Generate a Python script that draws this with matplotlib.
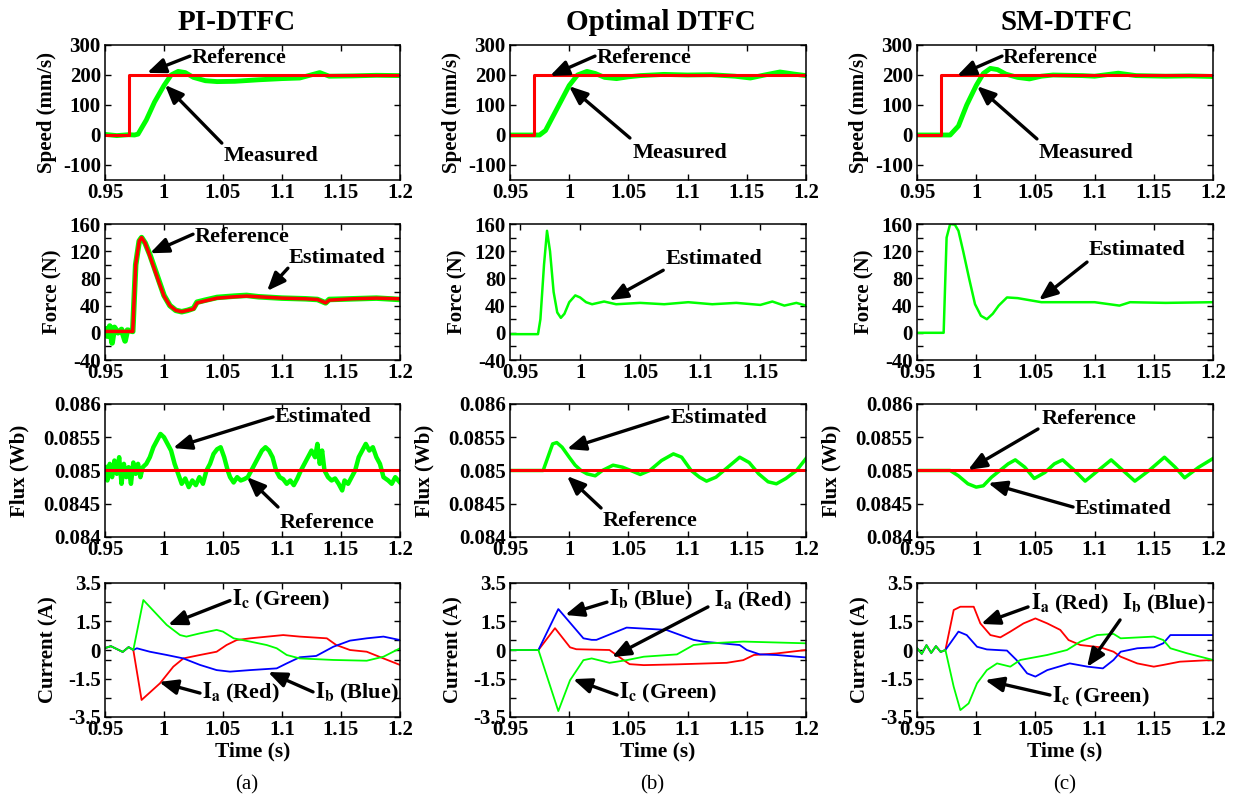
import matplotlib
matplotlib.use("Agg")
import matplotlib.pyplot as plt
from matplotlib.ticker import FixedLocator, FuncFormatter

plt.rcParams["font.family"] = "Liberation Serif"
plt.rcParams["font.weight"] = "bold"
plt.rcParams["mathtext.fontset"] = "stix"
plt.rcParams["axes.unicode_minus"] = False

GREEN, RED, BLUE = "#00ff00", "#ff0000", "#0000ff"

# ---------------- data ----------------
# row 1: speed (mm/s)
speed_ref_t = [0.95, 0.970, 0.970, 1.2]
speed_ref = [0, 0, 200, 200]

pi_speed_t = [0.95, 0.96, 0.97, 0.975, 0.978, 0.985, 0.992, 1.0, 1.006, 1.012, 1.018, 1.025,
              1.035, 1.045, 1.06, 1.08, 1.1, 1.115, 1.132, 1.14, 1.16, 1.18, 1.2]
pi_speed = [2, -2, 1, 0, 3, 50, 110, 165, 200, 212, 208, 192,
            181, 178, 179, 184, 188, 190, 208, 196, 197, 199, 198]

opt_speed_t = [0.95, 0.975, 0.98, 0.99, 1.0, 1.007, 1.015, 1.022, 1.03, 1.04, 1.05, 1.06,
               1.08, 1.1, 1.12, 1.14, 1.153, 1.165, 1.178, 1.19, 1.2]
opt_speed = [0, 0, 15, 90, 165, 200, 212, 205, 192, 188, 194, 198,
             202, 200, 201, 196, 190, 200, 210, 203, 198]

sm_speed_t = [0.95, 0.978, 0.985, 0.992, 1.0, 1.006, 1.012, 1.018, 1.025, 1.035, 1.045, 1.055,
              1.065, 1.09, 1.1, 1.12, 1.135, 1.16, 1.18, 1.2]
sm_speed = [0, 0, 30, 100, 165, 205, 222, 218, 203, 192, 187, 196,
            200, 198, 196, 206, 198, 196, 197, 195]

# row 2: force (N)
pi_force_t = [0.95, 0.952, 0.954, 0.956, 0.958, 0.961, 0.964, 0.967, 0.969, 0.9735, 0.976, 0.979,
              0.981, 0.984, 0.988, 0.992, 0.996, 1.0, 1.005, 1.01, 1.015, 1.02, 1.025, 1.028,
              1.035, 1.045, 1.06, 1.07, 1.08, 1.09, 1.1, 1.12, 1.13, 1.137, 1.14, 1.16, 1.18, 1.2]
pi_force_est = [5, -5, 10, -15, 8, 0, 5, -12, 4, 2, 100, 135,
                140, 132, 115, 95, 75, 55, 40, 33, 31, 33, 36, 45,
                48, 52, 54, 55, 53, 52, 51, 50, 49, 44, 49, 50, 51, 49]
pi_force_ref = [2, 2, 2, 2, 2, 2, 2, 2, 2, 2, 100, 135,
                140, 132, 113, 93, 73, 54, 40, 33, 31, 33, 35, 44,
                47, 51, 53, 54, 53, 52, 51, 50, 49, 44, 48, 50, 51, 50]

opt_force_t = [0.942, 0.965, 0.967, 0.970, 0.9725, 0.975, 0.978, 0.981, 0.984, 0.987, 0.991, 0.996,
               1.0, 1.005, 1.01, 1.02, 1.03, 1.05, 1.07, 1.09, 1.11, 1.13, 1.15, 1.16,
               1.17, 1.18, 1.188]
opt_force = [-2, -2, 20, 100, 150, 120, 60, 30, 22, 28, 45, 55,
             52, 45, 42, 46, 42, 44, 42, 45, 42, 44, 41, 46,
             40, 44, 40]

sm_force_t = [0.95, 0.9725, 0.975, 0.978, 0.982, 0.985, 0.989, 0.994, 0.999, 1.004, 1.009, 1.014,
              1.019, 1.026, 1.035, 1.045, 1.055, 1.08, 1.1, 1.121, 1.13, 1.16, 1.2]
sm_force = [0, 0, 140, 160, 159, 150, 120, 80, 42, 25, 20, 28,
            40, 52, 51, 48, 45, 45, 45, 40, 45, 44, 45]

# row 3: flux (Wb)
flux_ref_t = [0.95, 1.2]
flux_ref = [0.085, 0.085]

pi_flux_t = [0.95, 0.952, 0.954, 0.956, 0.958, 0.96, 0.962, 0.964, 0.966, 0.968, 0.970, 0.972,
             0.974, 0.976, 0.978, 0.980, 0.982, 0.985, 0.988, 0.991, 0.994, 0.997, 1.0, 1.003,
             1.006, 1.009, 1.012, 1.015, 1.018, 1.021, 1.024, 1.027, 1.030, 1.033, 1.036, 1.039,
             1.042, 1.045, 1.048, 1.051, 1.054, 1.056, 1.059, 1.062, 1.065, 1.068, 1.071, 1.074,
             1.077, 1.080, 1.083, 1.086, 1.089, 1.092, 1.095, 1.098, 1.101, 1.104, 1.107, 1.110,
             1.113, 1.116, 1.119, 1.122, 1.125, 1.128, 1.130, 1.132, 1.134, 1.136, 1.139, 1.142,
             1.145, 1.148, 1.151, 1.153, 1.156, 1.159, 1.162, 1.165, 1.168, 1.171, 1.174, 1.177,
             1.180, 1.183, 1.186, 1.190, 1.193, 1.196, 1.2]
pi_flux = [0.08505, 0.08485, 0.0851, 0.0849, 0.08515, 0.08495, 0.0852, 0.0848, 0.0851, 0.0849,
           0.08505, 0.0848, 0.08512, 0.08495, 0.0851, 0.0849, 0.08505, 0.0851, 0.0852, 0.08535,
           0.08545, 0.08555, 0.0855, 0.0854, 0.0853, 0.0851, 0.08495, 0.0848, 0.08488, 0.08475,
           0.08485, 0.08478, 0.0849, 0.0848, 0.0850, 0.0851, 0.08525, 0.08532, 0.08535, 0.0852,
           0.0850, 0.0849, 0.08482, 0.0849, 0.08485, 0.08487, 0.0849, 0.0850, 0.0851, 0.0852,
           0.0853, 0.08535, 0.0853, 0.0852, 0.0850, 0.0849, 0.08487, 0.0848, 0.08485, 0.08478,
           0.08488, 0.0850, 0.0851, 0.0852, 0.0853, 0.0852, 0.0854, 0.0851, 0.0853, 0.0850,
           0.0849, 0.08485, 0.08488, 0.0848, 0.0847, 0.08485, 0.0848, 0.0849, 0.0850, 0.0852,
           0.0853, 0.0854, 0.0853, 0.08535, 0.0852, 0.0851, 0.0849, 0.08485, 0.0848, 0.0849,
           0.08482]

opt_flux_t = [0.95, 0.978, 0.982, 0.986, 0.9895, 0.994, 1.0, 1.005, 1.01, 1.015, 1.022, 1.028,
              1.037, 1.045, 1.052, 1.06, 1.068, 1.078, 1.088, 1.095, 1.103, 1.11, 1.116, 1.124,
              1.134, 1.144, 1.152, 1.16, 1.168, 1.175, 1.183, 1.192, 1.2]
opt_flux = [0.085, 0.085, 0.0852, 0.0854, 0.08542, 0.08535, 0.0852, 0.08508, 0.085, 0.08495,
            0.08492, 0.085, 0.08508, 0.08505, 0.085, 0.08494, 0.085, 0.08515, 0.08525, 0.0852,
            0.085, 0.0849, 0.08484, 0.0849, 0.08505, 0.0852, 0.08512, 0.08495, 0.08483, 0.0848,
            0.08488, 0.085, 0.08518]

sm_flux_t = [0.95, 0.978, 0.985, 0.993, 1.0, 1.006, 1.013, 1.02, 1.027, 1.033, 1.041, 1.049,
             1.058, 1.066, 1.073, 1.083, 1.092, 1.103, 1.114, 1.124, 1.134, 1.146, 1.159, 1.168,
             1.176, 1.188, 1.2]
sm_flux = [0.085, 0.085, 0.08492, 0.0848, 0.08475, 0.08477, 0.0849, 0.085, 0.0851, 0.08516,
           0.08505, 0.08488, 0.08497, 0.0851, 0.08516, 0.085, 0.08484, 0.085, 0.08516, 0.085,
           0.08484, 0.085, 0.0852, 0.08505, 0.08489, 0.08505, 0.08518]

# row 4: phase currents (A)
pi_cur_t = [0.95, 0.955, 0.96, 0.965, 0.97, 0.974]
pi_cur_pre = [0.1, 0.2, 0.05, -0.1, 0.15, 0.0]
pi_ia_t = [0.981, 0.9966, 1.0079, 1.0164, 1.0305, 1.0446, 1.053, 1.0616, 1.073, 1.101, 1.115,
           1.138, 1.146, 1.1576, 1.1718, 1.186, 1.2]
pi_ia = [-2.61, -1.74, -0.87, -0.44, -0.26, -0.09, 0.26, 0.52, 0.61, 0.78, 0.70,
         0.61, 0.26, 0.0, -0.09, -0.44, -0.78]
pi_ib_t = [0.977, 0.988, 1.0023, 1.0164, 1.0305, 1.0446, 1.0559, 1.073, 1.0955, 1.104, 1.115,
           1.129, 1.1435, 1.1576, 1.1718, 1.186, 1.2]
pi_ib = [0.09, -0.09, -0.26, -0.44, -0.78, -1.05, -1.13, -1.05, -0.96, -0.70, -0.38,
         -0.31, 0.17, 0.49, 0.61, 0.70, 0.52]
pi_ic_t = [0.9825, 1.0023, 1.0136, 1.019, 1.0305, 1.0446, 1.05, 1.059, 1.073, 1.087, 1.0955,
           1.104, 1.115, 1.1435, 1.1718, 1.186, 1.2]
pi_ic = [2.61, 1.31, 0.78, 0.70, 0.87, 1.05, 0.96, 0.61, 0.44, 0.26, 0.09,
         -0.26, -0.44, -0.52, -0.56, -0.35, 0.09]

opt_cur_t = [0.95, 0.974]
opt_cur_pre = [0.0, 0.0]
opt_ia_t = [0.988, 1.0007, 1.006, 1.034, 1.046, 1.051, 1.063, 1.091, 1.133, 1.147, 1.156,
            1.175, 1.2]
opt_ia = [1.14, 0.14, 0.04, 0.0, -0.53, -0.74, -0.79, -0.75, -0.67, -0.53, -0.26,
          -0.18, 0.0]
opt_ib_t = [0.9908, 1.012, 1.019, 1.023, 1.0485, 1.068, 1.082, 1.105, 1.113, 1.144, 1.15,
            1.161, 1.175, 1.2]
opt_ib = [2.14, 0.61, 0.53, 0.53, 1.17, 1.10, 1.05, 0.53, 0.44, 0.26, 0.0,
          -0.23, -0.26, -0.39]
opt_ic_t = [0.9908, 1.0007, 1.012, 1.019, 1.034, 1.0485, 1.063, 1.091, 1.105, 1.119, 1.147, 1.2]
opt_ic = [-3.19, -1.58, -0.53, -0.44, -0.67, -0.53, -0.35, -0.23, 0.26, 0.35, 0.44, 0.35]

sm_cur_t = [0.95, 0.954, 0.958, 0.962, 0.966, 0.970, 0.974]
sm_cur_pre = [0.1, -0.2, 0.25, -0.15, 0.2, -0.1, 0.0]
sm_ia_t = [0.981, 0.9866, 0.9979, 1.0035, 1.012, 1.0204, 1.0288, 1.040, 1.050, 1.060, 1.071,
           1.078, 1.088, 1.105, 1.116, 1.122, 1.136, 1.150, 1.158, 1.172, 1.2]
sm_ia = [2.09, 2.26, 2.26, 1.39, 0.78, 0.66, 0.96, 1.39, 1.65, 1.39, 1.05,
         0.52, 0.26, 0.14, -0.09, -0.35, -0.70, -0.87, -0.78, -0.61, -0.52]
sm_ib_t = [0.985, 0.992, 1.0007, 1.009, 1.026, 1.034, 1.043, 1.050, 1.060, 1.079, 1.094,
           1.107, 1.116, 1.122, 1.136, 1.150, 1.158, 1.164, 1.2]
sm_ib = [0.96, 0.78, 0.17, 0.03, -0.03, -0.52, -1.22, -1.39, -1.05, -0.70, -0.87,
         -0.96, -0.52, -0.09, 0.09, 0.14, 0.35, 0.78, 0.78]
sm_ic_t = [0.981, 0.9866, 0.9936, 1.0007, 1.009, 1.0176, 1.0288, 1.0373, 1.060, 1.0767, 1.088,
           1.102, 1.116, 1.122, 1.150, 1.158, 1.164, 1.178, 1.2]
sm_ic = [-1.92, -3.14, -2.79, -1.74, -1.05, -0.70, -0.87, -0.52, -0.26, 0.0, 0.44,
         0.78, 0.84, 0.61, 0.70, 0.52, 0.09, -0.17, -0.52]

titles = ["PI-DTFC", "Optimal DTFC", "SM-DTFC"]
panel_tags = ["(a)", "(b)", "(c)"]
x_ticks = [0.95, 1.0, 1.05, 1.1, 1.15, 1.2]
opt_force_xticks = [0.95, 1.0, 1.05, 1.1, 1.15]

# ---------------- layout (pixels of the 1238x798 canvas) ----------------
W, H = 1238, 798
lefts, rights = [105, 510, 917], [400, 806, 1213]
tops, bottoms = [45, 224, 404, 583], [180, 360, 537, 717]

fig = plt.figure(figsize=(W / 100, H / 100), dpi=100)
fmt = FuncFormatter(lambda v, p: f"{v:g}")

rows = [
    dict(ylabel="Speed (mm/s)", ylim=(-150, 300), yt=[-100, 0, 100, 200, 300], minor=[], pad=4),
    dict(ylabel="Force (N)", ylim=(-40, 160), yt=[-40, 0, 40, 80, 120, 160],
         minor=[-20, 20, 60, 100, 140], pad=5),
    dict(ylabel="Flux (Wb)", ylim=(0.084, 0.086), yt=[0.084, 0.0845, 0.085, 0.0855, 0.086],
         minor=[], pad=10),
    dict(ylabel="Current (A)", ylim=(-3.5, 3.5), yt=[-3.5, -1.5, 0, 1.5, 3.5],
         minor=[-2.5, -0.5, 0.5, 2.5], pad=7),
]

axes = [[None] * 3 for _ in range(4)]
for r in range(4):
    for c in range(3):
        ax = fig.add_axes([lefts[c] / W, 1 - bottoms[r] / H,
                           (rights[c] - lefts[c]) / W, (bottoms[r] - tops[r]) / H])
        spec = rows[r]
        ax.set_ylim(*spec["ylim"])
        ax.yaxis.set_major_locator(FixedLocator(spec["yt"]))
        ax.yaxis.set_minor_locator(FixedLocator(spec["minor"]))
        if r == 1 and c == 1:
            ax.set_xlim(0.9417, 1.188)
            ax.xaxis.set_major_locator(FixedLocator(opt_force_xticks))
        else:
            ax.set_xlim(0.95, 1.2)
            ax.xaxis.set_major_locator(FixedLocator(x_ticks))
        ax.xaxis.set_major_formatter(fmt)
        ax.yaxis.set_major_formatter(fmt)
        ax.tick_params(which="both", direction="in", top=True, right=True,
                       length=4, width=1, labelsize=15, pad=3)
        ax.tick_params(axis="x", pad=2)
        for s in ax.spines.values():
            s.set_linewidth(1.1)
        ax.set_ylabel(spec["ylabel"], fontsize=15, fontweight="bold", labelpad=spec["pad"])
        if r == 3:
            ax.set_xlabel("Time (s)", fontsize=15.5, fontweight="bold", labelpad=1)
        axes[r][c] = ax

# speed
for c, (t, v) in enumerate([(pi_speed_t, pi_speed), (opt_speed_t, opt_speed), (sm_speed_t, sm_speed)]):
    ax = axes[0][c]
    ax.plot(t, v, color=GREEN, lw=3.5)
    ax.plot(speed_ref_t, speed_ref, color=RED, lw=2.2)

# force
axes[1][0].plot(pi_force_t, pi_force_est, color=GREEN, lw=4)
axes[1][0].plot(pi_force_t, pi_force_ref, color=RED, lw=2.5)
axes[1][1].plot(opt_force_t, opt_force, color=GREEN, lw=1.8)
axes[1][2].plot(sm_force_t, sm_force, color=GREEN, lw=1.8)

# flux
for c, (t, v, lw) in enumerate([(pi_flux_t, pi_flux, 3.2), (opt_flux_t, opt_flux, 2.5),
                                (sm_flux_t, sm_flux, 2.5)]):
    ax = axes[2][c]
    ax.plot(t, v, color=GREEN, lw=lw)
    ax.plot(flux_ref_t, flux_ref, color=RED, lw=2.2)

# currents
cur_sets = [
    (pi_cur_t, pi_cur_pre, pi_ia_t, pi_ia, pi_ib_t, pi_ib, pi_ic_t, pi_ic),
    (opt_cur_t, opt_cur_pre, opt_ia_t, opt_ia, opt_ib_t, opt_ib, opt_ic_t, opt_ic),
    (sm_cur_t, sm_cur_pre, sm_ia_t, sm_ia, sm_ib_t, sm_ib, sm_ic_t, sm_ic),
]
for c, (pt, pv, at, av, bt, bv, ct, cv) in enumerate(cur_sets):
    ax = axes[3][c]
    ax.plot(pt + at, pv + av, color=RED, lw=1.3)
    ax.plot(pt + bt, pv + bv, color=BLUE, lw=1.3)
    ax.plot(pt + ct, pv + cv, color=GREEN, lw=1.3)

# ---------------- annotations: (row, col, text, text xy, tail, tip, va) ----------------
IC, IA, IB = r"$\mathbf{I_c}$ (Green)", r"$\mathbf{I_a}$ (Red)", r"$\mathbf{I_b}$ (Blue)"
notes = [
    (0, 0, "Reference", (1.0237, 257), (1.022, 263), (0.9856, 207), "center"),
    (0, 0, "Measured", (1.0508, -70), (1.049, -27), (1.0008, 167), "center"),
    (0, 1, "Reference", (1.0235, 257), (1.0218, 263), (0.9838, 197), "center"),
    (0, 1, "Measured", (1.0539, -60), (1.0513, -10), (0.9998, 163), "center"),
    (0, 2, "Reference", (1.0226, 257), (1.0218, 263), (0.9838, 197), "center"),
    (0, 2, "Measured", (1.053, -60), (1.0513, -13), (1.0007, 163), "center"),
    (1, 0, "Reference", (1.0263, 141), (1.0246, 145), (0.9881, 117), "center"),
    (1, 0, "Estimated", (1.1059, 110), (1.105, 95), (1.0873, 61.5), "center"),
    (1, 1, "Estimated", (1.0709, 108.5), (1.0692, 92), (1.0242, 48), "center"),
    (1, 2, "Estimated", (1.0953, 122), (1.0936, 104), (1.053, 48), "center"),
    (2, 0, "Estimated", (1.0941, 0.085805), (1.0924, 0.085805), (1.0076, 0.085338), "center"),
    (2, 0, "Reference", (1.0983, 0.084211), (1.0966, 0.084451), (1.0703, 0.084902), "center"),
    (2, 1, "Estimated", (1.086, 0.08579), (1.0834, 0.085805), (0.9981, 0.085323), "center"),
    (2, 1, "Reference", (1.0285, 0.084241), (1.0269, 0.084436), (0.9981, 0.084917), "center"),
    (2, 2, "Reference", (1.0556, 0.085774), (1.0522, 0.085624), (0.9931, 0.085008), "center"),
    (2, 2, "Estimated", (1.0834, 0.084421), (1.0818, 0.084451), (1.01, 0.084812), "center"),
    (3, 0, IC, (1.0576, 2.35), (1.0559, 2.58), (1.0034, 1.31), "baseline"),
    (3, 0, IA, (1.0322, -2.51), (1.0305, -2.25), (0.9958, -1.67), "baseline"),
    (3, 0, IB, (1.128, -2.51), (1.1263, -2.19), (1.0881, -1.15), "baseline"),
    (3, 1, IB, (1.0336, 2.30), (1.0319, 2.50), (0.9965, 1.83), "baseline"),
    (3, 1, IA, (1.1223, 2.25), (1.1172, 2.25), (1.0361, -0.37), "baseline"),
    (3, 1, IC, (1.0421, -2.51), (1.0404, -2.35), (1.0032, -1.52), "baseline"),
    (3, 2, IA, (1.0463, 2.14), (1.0438, 2.25), (1.0041, 1.36), "baseline"),
    (3, 2, IB, (1.1231, 2.14), (1.1215, 1.57), (1.0936, -0.89), "baseline"),
    (3, 2, IC, (1.064, -2.72), (1.0623, -2.35), (1.0074, -1.57), "baseline"),
]
for r, c, txt, txy, tail, tip, va in notes:
    ax = axes[r][c]
    ax.annotate("", xy=tip, xytext=tail, annotation_clip=False,
                arrowprops=dict(arrowstyle="-|>,head_length=1.1,head_width=0.45",
                                mutation_scale=10, lw=2.4, color="k",
                                shrinkA=0, shrinkB=0))
    ax.text(txy[0], txy[1], txt, fontsize=16, fontweight="bold", ha="left", va=va,
            clip_on=False)

# column titles and panel tags
for x, t in zip([237, 661, 1067], titles):
    fig.text(x / W, 1 - 23 / H, t, fontsize=21, fontweight="bold", ha="center", va="center")
for x, t in zip([247, 652, 1065], panel_tags):
    fig.text(x / W, 1 - 785 / H, t, fontsize=15, fontweight="normal", ha="center", va="center")

fig.savefig("out.png", dpi=100)
